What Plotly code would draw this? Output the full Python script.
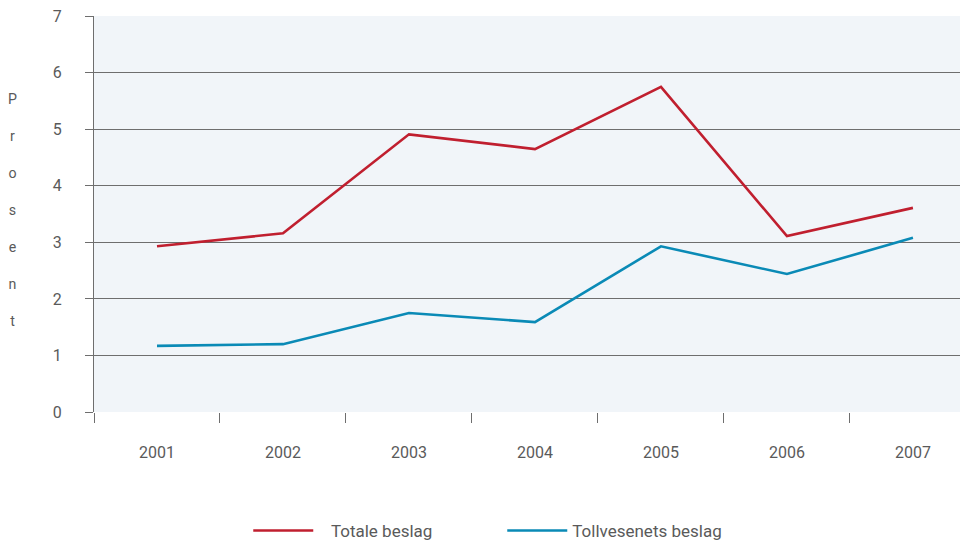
import plotly.graph_objects as go

years = ["2001", "2002", "2003", "2004", "2005", "2006", "2007"]
totale = [2.93, 3.16, 4.91, 4.65, 5.75, 3.11, 3.61]
toll = [1.17, 1.20, 1.75, 1.59, 2.93, 2.44, 3.08]
y_ticks = [0, 1, 2, 3, 4, 5, 6, 7]

FONT = "Roboto"
GREY = "#5a5a5a"
GRID = "#6e6e6e"
PAD = "\u00a0\u00a0\u00a0"

fig = go.Figure()
fig.add_trace(go.Scatter(x=years, y=totale, mode="lines", name=PAD + "Totale beslag",
                         line=dict(color="#c01f2f", width=2.6)))
fig.add_trace(go.Scatter(x=years, y=toll, mode="lines", name="Tollvesenets beslag",
                         line=dict(color="#0a8ab6", width=2.6)))

fig.update_layout(
    width=960, height=535,
    margin=dict(l=86, r=0, t=8, b=131, autoexpand=False),
    paper_bgcolor="white",
    plot_bgcolor="#f1f5f9",
    font=dict(family=FONT, color=GREY, size=15),
    showlegend=True,
    legend=dict(orientation="h", x=0.1765, y=-0.255, yanchor="top", xanchor="left",
                font=dict(size=17, color=GREY), entrywidth=179, entrywidthmode="pixels",
                itemwidth=60),
    xaxis=dict(type="category", range=[-0.5, 6.437], tickson="boundaries",
               ticks="outside", ticklen=10, tickcolor=GRID, showgrid=False,
               showline=False, zeroline=False, ticklabelstandoff=29, automargin=False,
               tickfont=dict(size=16, color=GREY)),
    yaxis=dict(range=[0, 7.003], tickvals=y_ticks, ticks="outside", ticklen=8, tickcolor=GRID,
               showgrid=True, gridcolor=GRID, gridwidth=1.3, showline=True,
               linecolor=GRID, linewidth=1.3, zeroline=False, ticklabelstandoff=20,
               ticklabeloverflow="allow",
               automargin=False, tickfont=dict(size=16, color=GREY)),
    annotations=[dict(text="P<br><br>r<br><br>o<br><br>s<br><br>e<br><br>n<br><br>t",
                      xref="paper", yref="paper", x=-0.093, y=0.51, xanchor="center",
                      yanchor="middle", showarrow=False,
                      font=dict(family=FONT, size=14.2, color=GREY))],
)

fig.write_html("out.html")
